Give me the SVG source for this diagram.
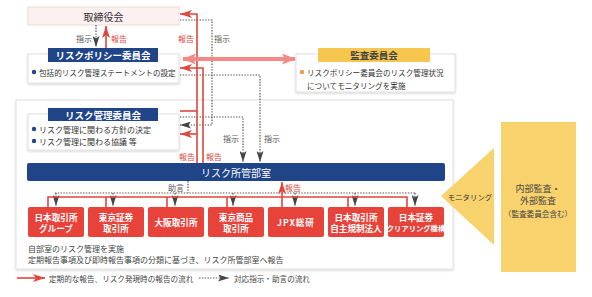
<svg xmlns="http://www.w3.org/2000/svg" width="592" height="297" viewBox="0 0 592 297">
<style>
text{font-family:"Noto Sans CJK JP","Noto Sans",sans-serif;dominant-baseline:central}
.hd{fill:#1f4488}
.hdt{fill:#fff;font-size:9.5px;font-weight:bold;text-anchor:middle}
.pnl{fill:#fff;stroke:#e0e0e0;stroke-width:1;filter:url(#sh)}
.bt{fill:#333;font-size:7.6px}
.lbl{font-size:8px;text-anchor:middle;fill:#555}
.rl{font-size:8px;text-anchor:middle;fill:#e0463e}
.red{fill:none;stroke:#e0463e;stroke-width:1.6}
.dot{fill:none;stroke:#555;stroke-width:1.2;stroke-dasharray:1.4 1.4}
.box{fill:#e8433b}
.bxt{fill:#fff;font-size:8.6px;font-weight:bold;text-anchor:middle}
.yl{fill:#f8d26c}
</style>
<defs>
<filter id="sh" x="-5%" y="-10%" width="110%" height="130%">
<feDropShadow dx="0" dy="1" stdDeviation="0.8" flood-color="#000" flood-opacity="0.18"/>
</filter>
<marker id="ar" viewBox="0 0 12 8" refX="12" refY="4" markerWidth="12" markerHeight="8" markerUnits="userSpaceOnUse" orient="auto">
<path d="M0,0 L12,4 L0,8 L3,4 z" fill="#e0463e"/>
</marker>
<marker id="ad" viewBox="0 0 11 7" refX="11" refY="3.5" markerWidth="11" markerHeight="7" markerUnits="userSpaceOnUse" orient="auto">
<path d="M0,0 L11,3.5 L0,7 L2.5,3.5 z" fill="#444"/>
</marker>
<marker id="ap" viewBox="0 0 14 11" refX="13" refY="5.5" markerWidth="14" markerHeight="11" markerUnits="userSpaceOnUse" orient="auto-start-reverse">
<path d="M0,0 L14,5.5 L0,11 L3,5.5 z" fill="#f28a85"/>
</marker>
</defs>
<rect x="0" y="0" width="592" height="297" fill="#fff"/>

<g id="main-panel">
<rect x="16" y="100" width="437" height="169" class="pnl"/>
<text x="28" y="248" class="bt" style="font-size:8px;fill:#444">自部室のリスク管理を実施</text>
<text x="28" y="259" class="bt" style="font-size:8px;fill:#444">定期報告事項及び即時報告事項の分類に基づき、リスク所管部室へ報告</text>
</g>

<g id="board">
<rect x="28" y="7" width="151" height="18" fill="#fdf0f0" stroke="#f1d8d8"/>
<text x="103.5" y="16" style="font-size:10px;fill:#333;text-anchor:middle">取締役会</text>
</g>

<g id="policy-committee">
<rect x="28" y="54" width="151" height="29" class="pnl"/>
<rect x="48" y="48" width="110" height="14" class="hd"/>
<text x="103" y="55" class="hdt">リスクポリシー委員会</text>
<circle cx="34" cy="72" r="2.2" fill="#1f4488"/>
<text x="39" y="72" class="bt">包括的リスク管理ステートメントの設定</text>
</g>

<g id="audit-committee">
<rect x="296" y="54" width="159" height="38" class="pnl"/>
<rect x="318" y="48" width="112" height="14" fill="#f6c64f"/>
<text x="374" y="55" class="hdt" style="fill:#444">監査委員会</text>
<circle cx="302" cy="72" r="2.2" fill="#e8a040"/>
<text x="307" y="72" class="bt">リスクポリシー委員会のリスク管理状況</text>
<text x="307" y="85" class="bt">についてモニタリングを実施</text>
</g>

<g id="risk-committee">
<rect x="28" y="114" width="151" height="36" class="pnl"/>
<rect x="48" y="108" width="110" height="13" class="hd"/>
<text x="103" y="114.5" class="hdt">リスク管理委員会</text>
<circle cx="34" cy="129" r="2.2" fill="#1f4488"/>
<text x="39" y="129" class="bt" style="font-size:8px">リスク管理に関わる方針の決定</text>
<circle cx="34" cy="141" r="2.2" fill="#1f4488"/>
<text x="39" y="141" class="bt" style="font-size:8px">リスク管理に関わる協議 等</text>
</g>

<g id="risk-dept">
<rect x="27" y="163" width="418" height="18" rx="2" class="hd"/>
<text x="236" y="172" style="fill:#fff;font-size:10px;text-anchor:middle">リスク所管部室</text>
</g>

<g id="entities">
<g id="jpx-group"><rect x="28" y="207" width="56" height="30" rx="2" class="box"/><text x="56" y="216.5" class="bxt">日本取引所</text><text x="56" y="228" class="bxt">グループ</text></g>
<g id="tse"><rect x="88" y="207" width="56" height="30" rx="2" class="box"/><text x="116" y="216.5" class="bxt">東京証券</text><text x="116" y="228" class="bxt">取引所</text></g>
<g id="ose"><rect x="148" y="207" width="56" height="30" rx="2" class="box"/><text x="176" y="222" class="bxt">大阪取引所</text></g>
<g id="tocom"><rect x="208" y="207" width="56" height="30" rx="2" class="box"/><text x="236" y="216.5" class="bxt">東京商品</text><text x="236" y="228" class="bxt">取引所</text></g>
<g id="jpxi"><rect x="268" y="207" width="56" height="30" rx="2" class="box"/><text x="296" y="222" class="bxt" style="letter-spacing:1px">JPX総研</text></g>
<g id="jpxr"><rect x="328" y="207" width="56" height="30" rx="2" class="box"/><text x="356" y="216.5" class="bxt">日本取引所</text><text x="356" y="228" class="bxt">自主規制法人</text></g>
<g id="jscc"><rect x="388" y="207" width="56" height="30" rx="2" class="box"/><text x="416" y="216.5" class="bxt">日本証券</text><text x="416" y="228" class="bxt" style="font-size:7.3px">クリアリング機構</text></g>
</g>

<g id="monitoring">
<polygon points="441,196 494,148 494,245" class="yl"/>
<text x="470" y="196" style="font-size:7.4px;fill:#333;text-anchor:middle">モニタリング</text>
<rect x="501" y="122" width="75" height="150" class="yl"/>
<text x="538" y="188" style="font-size:9px;fill:#444;text-anchor:middle">内部監査・</text>
<text x="538" y="200" style="font-size:9px;fill:#444;text-anchor:middle">外部監査</text>
<text x="538" y="213" style="font-size:7.6px;fill:#444;text-anchor:middle">（監査委員会含む）</text>
</g>

<g id="connectors">
<path d="M96,25 V47" class="dot" marker-end="url(#ad)"/>
<path d="M106,48 V26" class="red" marker-end="url(#ar)"/>
<text x="84" y="38" class="lbl">指示</text>
<text x="119" y="38" class="rl">報告</text>
<path d="M180,20 H212 V125 H180" class="dot" marker-end="url(#ad)"/>
<path d="M180,75 H260 V162" class="dot" marker-end="url(#ad)"/>
<path d="M180,117 H243 V162" class="dot" marker-end="url(#ad)"/>
<path d="M197,163 V14 H180" class="red" marker-end="url(#ar)"/>
<path d="M203,163 V68 H180" class="red" marker-end="url(#ar)"/>
<path d="M180,111 H197" class="red"/>
<path d="M197,134 H180" class="red" marker-end="url(#ar)"/>
<text x="186" y="38" class="rl">報告</text>
<text x="222" y="38" class="lbl">指示</text>
<text x="187" y="156" class="rl">報告</text>
<text x="214" y="156" class="rl">報告</text>
<text x="231" y="138" class="lbl">指示</text>
<text x="272" y="138" class="lbl">指示</text>
<path d="M183,59 H295" fill="none" stroke="#f28a85" stroke-width="4" marker-start="url(#ap)" marker-end="url(#ap)"/>
<text x="176" y="187" class="lbl">助言</text>
<path d="M188,181 V193 M55,193 H415" class="dot"/>
<path d="M56,193 V206" class="dot" marker-end="url(#ad)"/>
<path d="M113,193 V206" class="dot" marker-end="url(#ad)"/>
<path d="M175,193 V206" class="dot" marker-end="url(#ad)"/>
<path d="M233,193 V206" class="dot" marker-end="url(#ad)"/>
<path d="M295,193 V206" class="dot" marker-end="url(#ad)"/>
<path d="M355,193 V206" class="dot" marker-end="url(#ad)"/>
<path d="M415,193 V206" class="dot" marker-end="url(#ad)"/>
<path d="M48,207 V197 H407 V207 M106,197 V207 M167,197 V207 M227,197 V207 M348,197 V207" class="red"/>
<path d="M282,207 V182" class="red" marker-end="url(#ar)"/>
<text x="293" y="187" class="rl">報告</text>
</g>

<g id="legend">
<path d="M17,278 H45" class="red" marker-end="url(#ar)"/>
<text x="49" y="278" style="font-size:7.6px;fill:#444">定期的な報告、リスク発現時の報告の流れ</text>
<path d="M199,278 H229" class="dot" marker-end="url(#ad)"/>
<text x="234" y="278" style="font-size:7.6px;fill:#444">対応指示・助言の流れ</text>
</g>
</svg>
